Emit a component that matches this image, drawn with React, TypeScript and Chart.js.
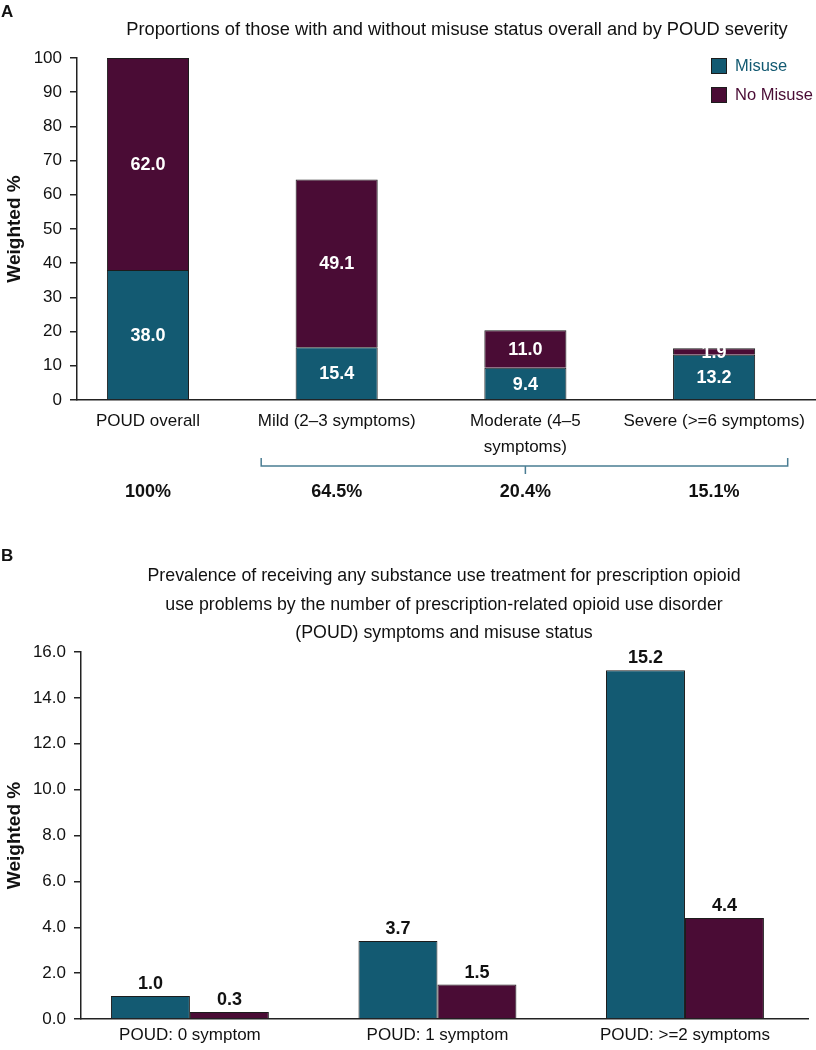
import React, { useEffect, useRef } from 'react';
import { Chart, registerables } from 'chart.js';

Chart.register(...registerables);

const FONT = "'Liberation Sans', Arial, Helvetica, sans-serif";
const TEAL = '#135a72';
const MAROON = '#4a0c35';
const BAR_BORDER = '#1c1c1c';
const AXIS = '#222222';
const TEXT = '#111111';
const BRACKET = '#4a7d93';

// ---------- Panel A data ----------
const panelALetter = 'A';
const panelATitle = 'Proportions of those with and without misuse status overall and by POUD severity';
const severityCategories = ['POUD overall', 'Mild (2–3 symptoms)', 'Moderate (4–5\nsymptoms)', 'Severe (>=6 symptoms)'];
const misuseShare = [38.0, 15.4, 9.4, 13.2];
const noMisuseShare = [62.0, 49.1, 11.0, 1.9];
const severityTotals = ['100%', '64.5%', '20.4%', '15.1%'];
const panelAYTicks = [0, 10, 20, 30, 40, 50, 60, 70, 80, 90, 100];
const seriesNames = ['Misuse', 'No Misuse'];

// ---------- Panel B data ----------
const panelBLetter = 'B';
const panelBTitle = [
  'Prevalence of receiving any substance use treatment for prescription opioid',
  'use problems by the number of prescription-related opioid use disorder',
  '(POUD) symptoms and misuse status',
];
const symptomCategories = ['POUD: 0 symptom', 'POUD: 1 symptom', 'POUD: >=2 symptoms'];
const treatmentMisuse = [1.0, 3.4, 15.2];
const treatmentNoMisuse = [0.3, 1.5, 4.4];
const treatmentMisuseText = ['1.0', '3.7', '15.2'];
const treatmentNoMisuseText = ['0.3', '1.5', '4.4'];
const panelBYTicks = [0, 2, 4, 6, 8, 10, 12, 14, 16];
const yTitle = 'Weighted %';

const seriesColors = [TEAL, MAROON];

const panelAPlugin = {
  id: 'panelAExtras',
  afterDraw(chart: any) {
    const ctx = chart.ctx;
    const xs = chart.scales.x;
    const area = chart.chartArea;
    ctx.save();
    ctx.fillStyle = TEXT;
    ctx.font = `bold 17px ${FONT}`;
    ctx.textAlign = 'left';
    ctx.textBaseline = 'alphabetic';
    ctx.fillText(panelALetter, 1, 17);

    ctx.font = `18.3px ${FONT}`;
    ctx.textAlign = 'center';
    ctx.fillText(panelATitle, 457, 35);

    // legend
    seriesNames.forEach((name, i) => {
      const cy = 66 + i * 29;
      ctx.fillStyle = seriesColors[i];
      ctx.fillRect(711, cy - 8, 16, 16);
      ctx.strokeStyle = BAR_BORDER;
      ctx.lineWidth = 1;
      ctx.strokeRect(711.5, cy - 7.5, 15, 15);
      ctx.fillStyle = seriesColors[i];
      ctx.font = `16.5px ${FONT}`;
      ctx.textAlign = 'left';
      ctx.textBaseline = 'middle';
      ctx.fillText(name, 735, cy);
    });

    // value labels inside bars
    const texts = [misuseShare, noMisuseShare];
    ctx.font = `bold 18px ${FONT}`;
    ctx.fillStyle = '#ffffff';
    ctx.textAlign = 'center';
    ctx.textBaseline = 'middle';
    chart.data.datasets.forEach((_: any, di: number) => {
      const meta = chart.getDatasetMeta(di);
      meta.data.forEach((bar: any, i: number) => {
        const p = bar.getProps(['x', 'y', 'base'], true);
        ctx.fillText(texts[di][i].toFixed(1), p.x, (p.y + p.base) / 2 + 1);
      });
    });

    // bracket under severity groups
    const left = xs.getPixelForValue(0.6);
    const right = xs.getPixelForValue(3.39);
    const mid = xs.getPixelForValue(2);
    const by = area.bottom + 66;
    ctx.strokeStyle = BRACKET;
    ctx.lineWidth = 1.5;
    ctx.beginPath();
    ctx.moveTo(left, by - 8);
    ctx.lineTo(left, by);
    ctx.lineTo(right, by);
    ctx.lineTo(right, by - 8);
    ctx.moveTo(mid, by);
    ctx.lineTo(mid, by + 8);
    ctx.stroke();

    // totals
    ctx.fillStyle = TEXT;
    ctx.font = `bold 18px ${FONT}`;
    ctx.textAlign = 'center';
    ctx.textBaseline = 'middle';
    severityTotals.forEach((t, i) => {
      ctx.fillText(t, xs.getPixelForValue(i), area.bottom + 92);
    });
    ctx.restore();
  },
};

const panelBPlugin = {
  id: 'panelBExtras',
  afterDraw(chart: any) {
    const ctx = chart.ctx;
    ctx.save();
    ctx.fillStyle = TEXT;
    ctx.font = `bold 17px ${FONT}`;
    ctx.textAlign = 'left';
    ctx.textBaseline = 'alphabetic';
    ctx.fillText(panelBLetter, 1, 51);

    ctx.font = `17.8px ${FONT}`;
    ctx.textAlign = 'center';
    panelBTitle.forEach((line, i) => {
      ctx.fillText(line, 444, 71 + i * 28.5);
    });

    const texts = [treatmentMisuseText, treatmentNoMisuseText];
    ctx.font = `bold 18px ${FONT}`;
    ctx.textBaseline = 'alphabetic';
    chart.data.datasets.forEach((_: any, di: number) => {
      const meta = chart.getDatasetMeta(di);
      meta.data.forEach((bar: any, i: number) => {
        const p = bar.getProps(['x', 'y'], true);
        ctx.fillText(texts[di][i], p.x, p.y - 7);
      });
    });
    ctx.restore();
  },
};

const tickFont = { family: FONT, size: 17 };
const yTitleFont = { family: FONT, size: 19, weight: 'bold' };

function makeConfigA(): any {
  return {
    type: 'bar',
    data: {
      datasets: [
        {
          label: seriesNames[0],
          data: misuseShare.map((v, i) => ({ x: i, y: v })),
          backgroundColor: TEAL,
          borderColor: BAR_BORDER,
          borderWidth: 1,
          categoryPercentage: 1,
          barPercentage: 0.435,
        },
        {
          label: seriesNames[1],
          data: noMisuseShare.map((v, i) => ({ x: i, y: v })),
          backgroundColor: MAROON,
          borderColor: BAR_BORDER,
          borderWidth: 1,
          categoryPercentage: 1,
          barPercentage: 0.435,
        },
      ],
    },
    options: {
      animation: false,
      responsive: false,
      maintainAspectRatio: false,
      layout: { padding: { top: 58, left: 0, right: 0, bottom: 0 } },
      plugins: { legend: { display: false }, title: { display: false }, tooltip: { enabled: false } },
      scales: {
        x: {
          type: 'linear',
          offset: false,
          min: -0.376,
          max: 3.54,
          stacked: true,
          afterBuildTicks: (s: any) => {
            s.ticks = severityCategories.map((_, i) => ({ value: i }));
          },
          afterFit: (s: any) => {
            s.height = 110;
          },
          grid: { display: false, drawTicks: false, offset: false },
          border: { display: true, color: AXIS, width: 1.5 },
          ticks: {
            autoSkip: false,
            maxRotation: 0,
            minRotation: 0,
            padding: 8,
            color: TEXT,
            font: { family: FONT, size: 17, lineHeight: 1.55 },
            callback: (v: any) => {
              const s = severityCategories[Math.round(v)];
              return s ? s.split('\n') : '';
            },
          },
        },
        y: {
          type: 'linear',
          min: 0,
          max: 100,
          stacked: true,
          afterBuildTicks: (s: any) => {
            s.ticks = panelAYTicks.map((v) => ({ value: v }));
          },
          afterFit: (s: any) => {
            s.width = 77;
          },
          grid: { display: true, drawOnChartArea: false, drawTicks: true, tickLength: 7, color: AXIS, lineWidth: 1.5 },
          border: { display: true, color: AXIS, width: 1.5 },
          ticks: { padding: 8, color: TEXT, font: tickFont },
          title: {
            display: true,
            text: yTitle,
            color: TEXT,
            font: yTitleFont,
            padding: { top: 3, bottom: 3 },
          },
        },
      },
    },
    plugins: [panelAPlugin],
  };
}

function makeConfigB(): any {
  return {
    type: 'bar',
    data: {
      datasets: [
        {
          label: seriesNames[0],
          data: treatmentMisuse.map((v, i) => ({ x: i, y: v })),
          backgroundColor: TEAL,
          borderColor: BAR_BORDER,
          borderWidth: 1,
          categoryPercentage: 0.638,
          barPercentage: 1,
        },
        {
          label: seriesNames[1],
          data: treatmentNoMisuse.map((v, i) => ({ x: i, y: v })),
          backgroundColor: MAROON,
          borderColor: BAR_BORDER,
          borderWidth: 1,
          categoryPercentage: 0.638,
          barPercentage: 1,
        },
      ],
    },
    options: {
      animation: false,
      responsive: false,
      maintainAspectRatio: false,
      layout: { padding: { top: 142, left: 0, right: 8, bottom: 0 } },
      plugins: { legend: { display: false }, title: { display: false }, tooltip: { enabled: false } },
      scales: {
        x: {
          type: 'linear',
          offset: false,
          min: -0.44,
          max: 2.497,
          afterBuildTicks: (s: any) => {
            s.ticks = symptomCategories.map((_, i) => ({ value: i }));
          },
          afterFit: (s: any) => {
            s.height = 31;
          },
          grid: { display: false, drawTicks: false, offset: false },
          border: { display: true, color: AXIS, width: 1.5 },
          ticks: {
            autoSkip: false,
            maxRotation: 0,
            minRotation: 0,
            padding: 6,
            color: TEXT,
            font: tickFont,
            callback: (v: any) => symptomCategories[Math.round(v)] ?? '',
          },
        },
        y: {
          type: 'linear',
          min: 0,
          max: 16,
          afterBuildTicks: (s: any) => {
            s.ticks = panelBYTicks.map((v) => ({ value: v }));
          },
          afterFit: (s: any) => {
            s.width = 81;
          },
          grid: { display: true, drawOnChartArea: false, drawTicks: true, tickLength: 7, color: AXIS, lineWidth: 1.5 },
          border: { display: true, color: AXIS, width: 1.5 },
          ticks: { padding: 8, color: TEXT, font: tickFont, callback: (v: any) => Number(v).toFixed(1) },
          title: {
            display: true,
            text: yTitle,
            color: TEXT,
            font: yTitleFont,
            padding: { top: 3, bottom: 3 },
          },
        },
      },
    },
    plugins: [panelBPlugin],
  };
}

export default function App() {
  const refA = useRef<HTMLCanvasElement>(null);
  const refB = useRef<HTMLCanvasElement>(null);

  useEffect(() => {
    const a = new Chart(refA.current as HTMLCanvasElement, makeConfigA());
    const b = new Chart(refB.current as HTMLCanvasElement, makeConfigB());
    return () => {
      a.destroy();
      b.destroy();
    };
  }, []);

  return (
    <div style={{ position: 'absolute', left: 0, top: 0, width: 816, height: 1050, background: '#ffffff' }}>
      <canvas
        ref={refA}
        width={816}
        height={510}
        style={{ position: 'absolute', left: 0, top: 0, width: 816, height: 510 }}
      />
      <canvas
        ref={refB}
        width={816}
        height={540}
        style={{ position: 'absolute', left: 0, top: 510, width: 816, height: 540 }}
      />
    </div>
  );
}
